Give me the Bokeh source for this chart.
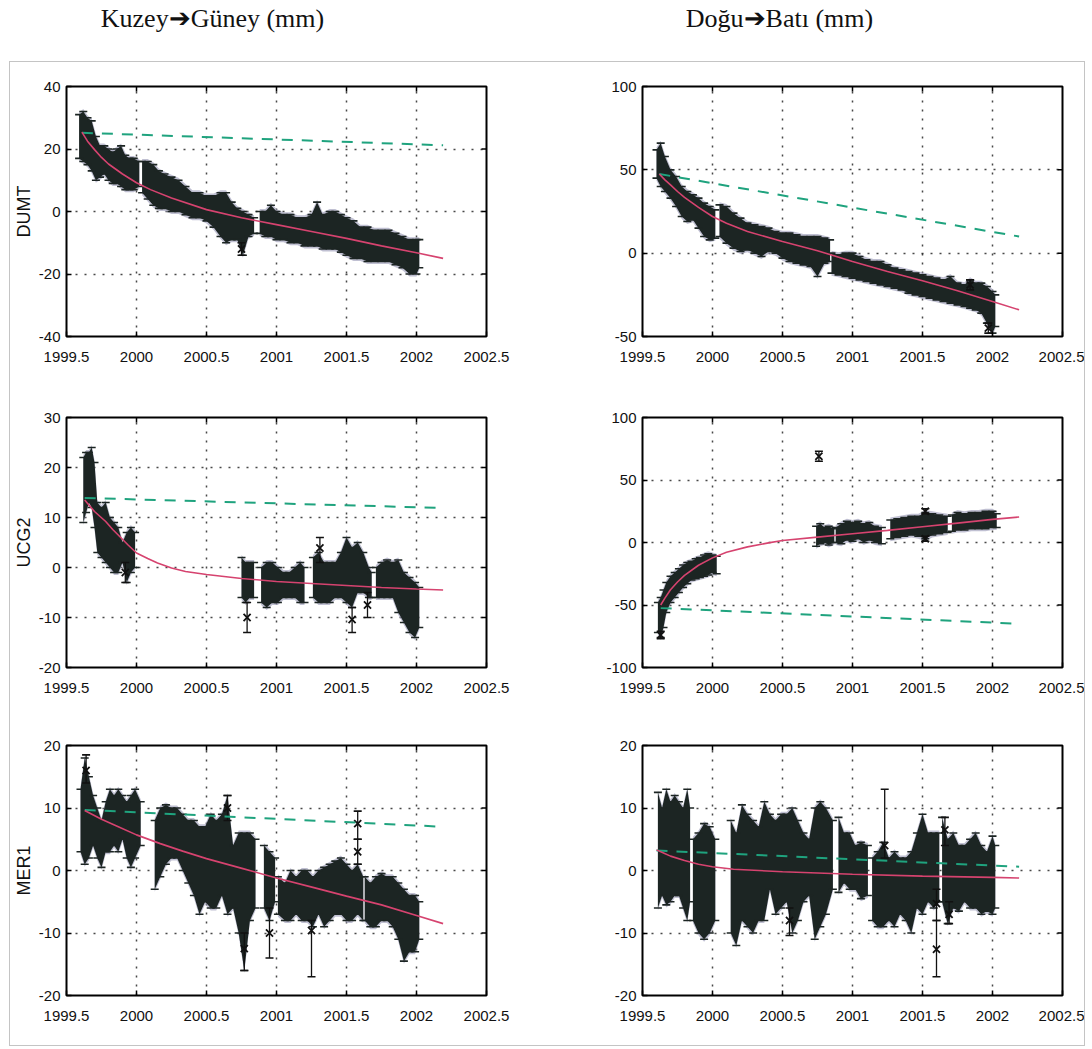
import numpy as np
from bokeh.plotting import figure
from bokeh.models import Range1d, FixedTicker, NumeralTickFormatter
from bokeh.layouts import column, row
from bokeh.embed import file_html
from bokeh.resources import INLINE
from bokeh.core.properties import value

# ---------------- data ----------------
TITLES = ["Kuzey\u2794Güney (mm)", "Doğu\u2794Batı (mm)"]
STATIONS = ["DUMT", "UCG2", "MER1"]
X_TICKS = [1999.5, 2000, 2000.5, 2001, 2001.5, 2002, 2002.5]
X_TICK_LABELS = ["1999.5", "2000", "2000.5", "2001", "2001.5", "2002", "2002.5"]

# ---- DUMT north (Kuzey->Güney)
dumt_n_yticks = [-40, -20, 0, 20, 40]
dumt_n_seg_t = [
    [1999.59, 1999.62, 1999.65, 1999.68, 1999.71, 1999.74, 1999.77, 1999.80, 1999.83, 1999.86, 1999.89, 1999.92, 1999.95, 1999.98, 2000.02],
    [2000.04, 2000.08, 2000.12, 2000.16, 2000.20, 2000.25, 2000.30, 2000.35, 2000.40, 2000.45, 2000.50, 2000.55, 2000.60, 2000.64, 2000.68, 2000.72, 2000.76, 2000.80, 2000.84],
    [2000.88, 2000.92, 2000.96, 2001.0, 2001.05, 2001.1, 2001.15, 2001.2, 2001.25, 2001.29, 2001.33, 2001.38, 2001.42, 2001.46, 2001.5, 2001.55, 2001.6, 2001.65, 2001.7, 2001.75, 2001.8, 2001.85, 2001.9, 2001.95, 2002.0, 2002.02],
]
dumt_n_seg_hi = [
    [31, 32, 30, 29, 24, 21, 21, 20, 19, 20, 21, 18, 17, 17, 16],
    [16, 16, 15, 13, 12, 11, 10, 8, 6, 6, 5, 5, 6, 6, 3, 1, 0, -1, -2],
    [0, 0, 2, 0, -1, -1, -2, -2, -1, 3, -1, 0, 0, -1, -2, -3, -5, -5, -6, -6, -6, -7, -8, -9, -9, -9],
]
dumt_n_seg_lo = [
    [17, 16, 15, 13, 10, 11, 12, 10, 9, 9, 8, 7, 7, 7, 8],
    [6, 4, 2, 1, 1, 0, 0, -1, -2, -2, -3, -5, -8, -10, -9, -9, -14, -8, -7],
    [-7, -8, -8, -9, -9, -10, -10, -11, -11, -11, -12, -12, -12, -13, -14, -15, -15, -16, -16, -16, -16, -17, -18, -20, -20, -18],
]
dumt_n_out_t, dumt_n_out_y, dumt_n_out_lo, dumt_n_out_hi = [2000.75], [-12], [-14], [-10]
dumt_n_fit_t = [1999.61, 1999.65, 1999.7, 1999.75, 1999.8, 1999.9, 2000.0, 2000.1, 2000.25, 2000.5, 2000.75, 2001.0, 2001.25, 2001.5, 2001.75, 2002.0, 2002.19]
dumt_n_fit_y = [25.4, 22.5, 19.8, 17.3, 15.2, 12.0, 9.2, 7.0, 4.3, 0.6, -2.0, -4.2, -6.4, -8.6, -11.0, -13.2, -15.0]
dumt_n_lin_t, dumt_n_lin_y = [1999.61, 2002.19], [25.2, 21.2]

# ---- DUMT east (Doğu->Batı)
dumt_e_yticks = [-50, 0, 50, 100]
dumt_e_seg_t = [
    [1999.60, 1999.63, 1999.66, 1999.70, 1999.74, 1999.78, 1999.82, 1999.86, 1999.90, 1999.94, 1999.98, 2000.02],
    [2000.05, 2000.1, 2000.15, 2000.2, 2000.25, 2000.3, 2000.35, 2000.4, 2000.45, 2000.5, 2000.55, 2000.6, 2000.65, 2000.7, 2000.75, 2000.8, 2000.84],
    [2000.85, 2000.9, 2000.95, 2001.0, 2001.05, 2001.1, 2001.15, 2001.2, 2001.25, 2001.3, 2001.35, 2001.4, 2001.45, 2001.5, 2001.55, 2001.6, 2001.65, 2001.7, 2001.75, 2001.8, 2001.84, 2001.88, 2001.92, 2001.96, 2002.0, 2002.02],
]
dumt_e_seg_hi = [
    [62, 66, 58, 50, 46, 40, 37, 35, 33, 30, 28, 26],
    [29, 28, 24, 21, 18, 17, 16, 15, 13, 12, 12, 11, 10, 10, 10, 9, 8],
    [0, -1, 0, 0, -2, -4, -5, -5, -7, -9, -10, -11, -12, -13, -14, -15, -16, -14, -18, -19, -16, -18, -18, -20, -23, -25],
]
dumt_e_seg_lo = [
    [45, 40, 37, 33, 28, 22, 19, 20, 15, 10, 8, 9],
    [10, 6, 3, 1, 2, 0, -2, 1, 0, -3, -5, -6, -7, -8, -14, -6, -5],
    [-12, -13, -14, -15, -16, -17, -18, -19, -20, -21, -22, -24, -25, -26, -27, -28, -29, -30, -31, -32, -33, -34, -36, -42, -48, -44],
]
dumt_e_out_t, dumt_e_out_y, dumt_e_out_lo, dumt_e_out_hi = [2001.84, 2001.97], [-19, -45], [-22, -48], [-16, -42]
dumt_e_fit_t = [1999.62, 1999.66, 1999.7, 1999.75, 1999.8, 1999.9, 2000.0, 2000.1, 2000.25, 2000.5, 2000.75, 2001.0, 2001.25, 2001.5, 2001.75, 2002.0, 2002.19]
dumt_e_fit_y = [47.5, 44, 41, 37, 33.5, 27.5, 22, 18, 13, 7, 1.5, -5, -11, -16.5, -22.5, -29, -34]
dumt_e_lin_t, dumt_e_lin_y = [1999.62, 2002.19], [47.5, 10]

# ---- UCG2 north
ucg2_n_yticks = [-20, -10, 0, 10, 20, 30]
ucg2_n_seg_t = [
    [1999.62, 1999.64, 1999.66, 1999.68, 1999.70, 1999.72, 1999.75, 1999.78, 1999.81, 1999.84, 1999.87, 1999.90, 1999.93, 1999.96, 1999.99],
    [2000.75, 2000.78, 2000.81, 2000.84],
    [2000.89, 2000.93, 2000.97, 2001.01, 2001.05, 2001.09, 2001.13, 2001.17, 2001.2],
    [2001.26, 2001.3, 2001.34, 2001.38, 2001.42, 2001.46, 2001.5, 2001.54, 2001.58, 2001.62, 2001.66, 2001.68],
    [2001.71, 2001.75, 2001.79, 2001.83, 2001.87, 2001.91, 2001.95, 2001.99, 2002.02],
]
ucg2_n_seg_hi = [
    [22, 23, 23, 24, 21, 13, 12, 13, 10, 9, 8, 5, 7, 8, 7],
    [2, 1, 1, 1],
    [0, 1, 1, 0, -1, -1, 0, 1, 0],
    [2, 3, 1, 1, 1, 3, 6, 4, 5, 3, 0, -1],
    [0, 1, 1.5, 1, 1.5, -1, -2, -3, -4],
]
ucg2_n_seg_lo = [
    [9, 11, 13, 12, 8, 3, 2, 1, 0, -1, -1, 1, -3, -1, 0],
    [-6, -7, -6, -6],
    [-7, -8, -7, -7, -6, -6, -6, -7, -7],
    [-6, -7, -7, -7, -6, -6, -7, -8, -5, -5, -6, -6],
    [-6, -6, -6, -6, -9, -11, -13, -14, -12],
]
ucg2_n_out_t = [2000.79, 2001.31, 2001.54, 2001.65, 1999.92]
ucg2_n_out_y = [-10, 3.9, -10.4, -7.5, -1]
ucg2_n_out_lo = [-13, 1, -13, -10, -3]
ucg2_n_out_hi = [-7, 6, -8, -5, 1]
ucg2_n_fit_t = [1999.63, 1999.66, 1999.7, 1999.74, 1999.78, 1999.83, 1999.88, 1999.94, 2000.0, 2000.08, 2000.15, 2000.25, 2000.35, 2000.5, 2000.75, 2001.0, 2001.25, 2001.5, 2001.75, 2002.0, 2002.19]
ucg2_n_fit_y = [13.5, 12.5, 11.2, 10.2, 9.2, 7.6, 6.2, 4.5, 2.9, 1.8, 0.9, -0.1, -0.8, -1.4, -2.2, -2.8, -3.2, -3.6, -4.0, -4.3, -4.5]
ucg2_n_lin_t, ucg2_n_lin_y = [1999.63, 2002.19], [13.9, 11.9]

# ---- UCG2 east
ucg2_e_yticks = [-100, -50, 0, 50, 100]
ucg2_e_seg_t = [
    [1999.61, 1999.63, 1999.65, 1999.67, 1999.70, 1999.73, 1999.76, 1999.79, 1999.82, 1999.85, 1999.88, 1999.91, 1999.94, 1999.97, 2000.0, 2000.03],
    [2000.74, 2000.77, 2000.8, 2000.83, 2000.87],
    [2000.88, 2000.92, 2000.96, 2001.0, 2001.04, 2001.08, 2001.12, 2001.16, 2001.21],
    [2001.27, 2001.32, 2001.37, 2001.42, 2001.47, 2001.52, 2001.57, 2001.62, 2001.68],
    [2001.71, 2001.75, 2001.8, 2001.85, 2001.9, 2001.95, 2002.0, 2002.03],
]
ucg2_e_seg_hi = [
    [-48, -44, -38, -32, -27, -24, -21, -18, -16, -15, -13, -12, -10, -9, -10, -11],
    [13, 15, 12, 13, 11],
    [12, 15, 17, 16, 17, 15, 16, 13, 12],
    [18, 19, 20, 21, 21, 24, 23, 22, 21],
    [22, 24, 23, 24, 24, 25, 25, 23],
]
ucg2_e_seg_lo = [
    [-72, -76, -68, -56, -48, -44, -40, -36, -33, -30, -29, -28, -27, -26, -24, -25],
    [-3, -1, 0, -2, 0],
    [0, -1, 2, 1, 3, 0, 2, 0, -1],
    [3, 4, 5, 6, 5, 3, 6, 7, 8],
    [9, 10, 10, 11, 11, 11, 12, 12],
]
ucg2_e_out_t = [2000.76, 1999.63, 2001.52, 2001.52]
ucg2_e_out_y = [69, -74, 25, 3]
ucg2_e_out_lo = [65, -77, 23, 1]
ucg2_e_out_hi = [73, -71, 27, 5]
ucg2_e_fit_t = [1999.63, 1999.66, 1999.7, 1999.75, 1999.8, 1999.9, 2000.0, 2000.1, 2000.25, 2000.4, 2000.5, 2000.75, 2001.0, 2001.25, 2001.5, 2001.75, 2002.0, 2002.19]
ucg2_e_fit_y = [-50, -44.5, -37.8, -31.6, -26.3, -18.2, -12.3, -7.8, -3.5, -0.3, 1.6, 4.3, 7.0, 9.7, 12.6, 15.5, 18.5, 20.4]
ucg2_e_lin_t, ucg2_e_lin_y = [1999.63, 2002.19], [-52.5, -65]

# ---- MER1 north
mer1_n_yticks = [-20, -10, 0, 10, 20]
mer1_n_seg_t = [
    [1999.6, 1999.63, 1999.66, 1999.69, 1999.72, 1999.75, 1999.78, 1999.81, 1999.84, 1999.87, 1999.9, 1999.93, 1999.96, 1999.99, 2000.03],
    [2000.13, 2000.17, 2000.21, 2000.25, 2000.29, 2000.33, 2000.37, 2000.41, 2000.45, 2000.49, 2000.53, 2000.57, 2000.61, 2000.65, 2000.69, 2000.73, 2000.77, 2000.81, 2000.85],
    [2000.91, 2000.95, 2000.99],
    [2001.01, 2001.06, 2001.1, 2001.14, 2001.18, 2001.22, 2001.26, 2001.3, 2001.34, 2001.38, 2001.42, 2001.46, 2001.5, 2001.54, 2001.58, 2001.62],
    [2001.63, 2001.67, 2001.71, 2001.75, 2001.79, 2001.83, 2001.87, 2001.91, 2001.95, 2001.99, 2002.02],
]
mer1_n_seg_hi = [
    [13, 18, 15, 12, 10, 8, 11, 13, 12, 13, 12, 11, 12, 13, 11],
    [8, 10, 10.5, 10, 10, 9, 8, 8, 7, 7, 9, 8, 9, 12, 4, 6, 6, 6, 5],
    [4, 3, 2],
    [-1, -2, 0, -1, 0, 0, -1, 0, 0.5, 1, 1.5, 2, 1, 0, 1, -1],
    [-1, -2, -1, -0.5, -1, -1, -2, -3, -4, -4, -5],
]
mer1_n_seg_lo = [
    [3, 1, 2, 4, 2, 0.5, 3, 3, 4, 3, 5, 2, 0.5, 2, 4],
    [-3, -1, 1, 2, 2, 0, -2, -4, -7, -5, -6, -6, -4, -7, -6, -10, -16, -8, -6],
    [-6, -8, -5],
    [-7, -8, -8, -7, -8, -8, -9, -7, -9, -8, -7, -7, -8, -8, -7, -8],
    [-8, -9, -9, -8, -8, -9, -11, -14.5, -13, -13, -11],
]
mer1_n_out_t = [1999.64, 2000.65, 2000.77, 2000.95, 2001.25, 2001.58, 2001.58]
mer1_n_out_y = [16, 10, -12.5, -10, -9.6, 7.5, 3]
mer1_n_out_lo = [14, 8, -16, -14, -17, 5, 1]
mer1_n_out_hi = [18.5, 12, -10, -6, -8, 9.5, 5]
mer1_n_fit_t = [1999.63, 1999.75, 1999.87, 2000.0, 2000.17, 2000.33, 2000.5, 2000.76, 2001.0, 2001.26, 2001.5, 2001.75, 2002.0, 2002.19]
mer1_n_fit_y = [9.6, 8.2, 7.0, 5.7, 4.3, 3.1, 1.9, 0.3, -1.2, -2.7, -4.1, -5.5, -7.2, -8.5]
mer1_n_lin_t, mer1_n_lin_y = [1999.63, 2002.19], [9.7, 7.0]

# ---- MER1 east
mer1_e_yticks = [-20, -10, 0, 10, 20]
mer1_e_seg_t = [
    [1999.61, 1999.64, 1999.67, 1999.7, 1999.73, 1999.76, 1999.79, 1999.82, 1999.84],
    [1999.86, 1999.9, 1999.94, 1999.98, 2000.02],
    [2000.13, 2000.17, 2000.21, 2000.25, 2000.29, 2000.33, 2000.37, 2000.41, 2000.45, 2000.49, 2000.53, 2000.57, 2000.61, 2000.65, 2000.69, 2000.73, 2000.77, 2000.81, 2000.86],
    [2000.9, 2000.94, 2000.98, 2001.02, 2001.06, 2001.11],
    [2001.14, 2001.18, 2001.22, 2001.26, 2001.3, 2001.34, 2001.38, 2001.42, 2001.46, 2001.5, 2001.54, 2001.58, 2001.62],
    [2001.64, 2001.68, 2001.72, 2001.76, 2001.8, 2001.84, 2001.88, 2001.92, 2001.96, 2002.0, 2002.02],
]
mer1_e_seg_hi = [
    [12.5, 10, 13, 11, 12, 11, 10, 13, 10],
    [5, 6, 7.5, 7, 5],
    [8, 6, 10.5, 9, 8, 7, 11, 9, 8, 9, 9, 10, 8, 6, 5, 10, 11, 10, 8],
    [8.5, 6, 6, 4, 4.5, 4],
    [2, 3, 4.5, 2, 3, 2, 2, 3, 6, 9, 6, 6, 6],
    [8.5, 5, 6, 4, 4, 5, 6, 4, 3, 5.5, 4],
]
mer1_e_seg_lo = [
    [-6, -4, -5.5, -5, -4, -4, -6, -8, -5],
    [-8, -10, -11, -10, -8],
    [-10, -12, -8, -9, -10, -8, -8, -3, -7, -6, -5, -10, -8, -5, -4, -11, -9, -7, -3],
    [-3.5, -2, -3, -3, -4.5, -4],
    [-8, -9, -9, -8, -9, -7, -8, -10, -6, -7, -5, -6, -5],
    [-5, -8.5, -6, -6.5, -5, -6, -6, -7, -6.5, -7, -6],
]
mer1_e_out_t = [2001.23, 2001.6, 2001.6, 2001.66, 2001.69, 2000.55]
mer1_e_out_y = [4, -12.6, -5.3, 6.5, -7, -8]
mer1_e_out_lo = [2, -17, -8, 4, -8.5, -10.4]
mer1_e_out_hi = [13, -8, -3, 8.5, -5, -6]
mer1_e_fit_t = [1999.6, 1999.65, 1999.7, 1999.8, 1999.9, 2000.0, 2000.15, 2000.5, 2001.0, 2001.5, 2002.0, 2002.19]
mer1_e_fit_y = [3.3, 2.8, 2.3, 1.6, 1.0, 0.6, 0.2, -0.2, -0.6, -0.9, -1.1, -1.2]
mer1_e_lin_t, mer1_e_lin_y = [1999.6, 2002.19], [3.2, 0.6]

# ---------------- styling / layout ----------------
DARK = "#1c2523"
HALO = "#9696b4"
RED = "#d6436f"
GREEN = "#1fa37e"
TICK_FONT = "Liberation Sans"
# (figure width, border left, border right)
COLS = [(544, 55, 68), (530, 88, 22)]
# (figure height, border top, border bottom)
ROWS = [(330, 24, 56), (330, 25, 55), (323, 23, 50)]
X0, X1 = X_TICKS[0], X_TICKS[-1]


def make_panel(ci, ri, yticks, seg_t, seg_hi, seg_lo, out_t, out_y, out_lo, out_hi,
               fit_t, fit_y, lin_t, lin_y, ylabel=None):
    W, bl, br = COLS[ci]
    H, bt, bb = ROWS[ri]
    y0, y1 = yticks[0], yticks[-1]
    fw, fh = W - bl - br, H - bt - bb
    p = figure(width=W, height=H, x_range=Range1d(X0, X1), y_range=Range1d(y0, y1),
               output_backend="svg", toolbar_location=None,
               min_border_left=bl, min_border_right=br, min_border_top=bt, min_border_bottom=bb)
    p.background_fill_color = "white"
    p.border_fill_color = "white"
    p.outline_line_color = "black"
    p.outline_line_width = 2

    for ax in (p.xaxis[0], p.yaxis[0]):
        ax.major_tick_in = 5
        ax.major_tick_out = 0
        ax.minor_tick_line_color = None
        ax.axis_line_color = None
        ax.major_tick_line_color = "black"
        ax.major_tick_line_width = 1.5
        ax.major_label_text_font = TICK_FONT
        ax.major_label_text_font_size = "15px"
        ax.major_label_text_color = "#111111"
    p.xaxis[0].ticker = FixedTicker(ticks=X_TICKS)
    p.xaxis[0].formatter = NumeralTickFormatter(format="0.[0]")
    p.xaxis[0].major_label_overrides = {t: lab for t, lab in zip(X_TICKS, X_TICK_LABELS)}
    p.xaxis[0].major_label_standoff = 15
    p.yaxis[0].ticker = FixedTicker(ticks=yticks)
    p.yaxis[0].major_label_overrides = {t: str(t) for t in yticks}
    p.yaxis[0].major_label_standoff = 6
    if ylabel:
        p.yaxis[0].axis_label = ylabel
        p.yaxis[0].axis_label_text_font = "Liberation Sans"
        p.yaxis[0].axis_label_text_font_size = "18px"
        p.yaxis[0].axis_label_text_font_style = "normal"
        p.yaxis[0].axis_label_standoff = 2
        p.yaxis[0].axis_label_text_color = "#111111"

    # inward ticks on the top and right sides of the box
    dy = 5.0 * (y1 - y0) / fh
    dx = 5.0 * (X1 - X0) / fw
    xt = X_TICKS[1:-1]
    yt = yticks[1:-1]
    p.segment(x0=xt, y0=[y1] * len(xt), x1=xt, y1=[y1 - dy] * len(xt),
              line_color="black", line_width=1.5)
    p.segment(x0=[X1] * len(yt), y0=yt, x1=[X1 - dx] * len(yt), y1=yt,
              line_color="black", line_width=1.5)

    p.xgrid.ticker = FixedTicker(ticks=xt)
    p.ygrid.ticker = FixedTicker(ticks=yt)
    p.grid.grid_line_color = "#1a1a1a"
    p.grid.grid_line_dash = "2 7"
    p.grid.grid_line_width = 1.5
    p.grid.grid_line_alpha = 0.8

    halo = 2.5 * (y1 - y0) / fh
    for t, hi, lo in zip(seg_t, seg_hi, seg_lo):
        t = np.array(t, float)
        hi = np.array(hi, float)
        lo = np.array(lo, float)
        p.varea(x=t, y1=lo - halo, y2=hi + halo, fill_color=HALO, fill_alpha=0.6)
        p.varea(x=t, y1=lo, y2=hi, fill_color=DARK, fill_alpha=1.0)
        p.scatter(x=np.concatenate([t, t]), y=np.concatenate([hi, lo]), marker="dash",
                  size=8, line_color=DARK, line_width=1.7)
    if out_t:
        p.segment(x0=out_t, y0=out_lo, x1=out_t, y1=out_hi, line_color="#111111", line_width=1.3)
        p.scatter(x=out_t + out_t, y=out_lo + out_hi, marker="dash", size=8,
                  line_color="#111111", line_width=1.6)
        p.scatter(x=out_t, y=out_y, marker="x", size=10, line_color="#111111", line_width=1.8)

    p.line(lin_t, lin_y, line_color=GREEN, line_width=2, line_dash="11 9")
    p.line(fit_t, fit_y, line_color=RED, line_width=1.6)
    return p


f11 = make_panel(0, 0, dumt_n_yticks, dumt_n_seg_t, dumt_n_seg_hi, dumt_n_seg_lo,
                 dumt_n_out_t, dumt_n_out_y, dumt_n_out_lo, dumt_n_out_hi,
                 dumt_n_fit_t, dumt_n_fit_y, dumt_n_lin_t, dumt_n_lin_y, STATIONS[0])
f12 = make_panel(1, 0, dumt_e_yticks, dumt_e_seg_t, dumt_e_seg_hi, dumt_e_seg_lo,
                 dumt_e_out_t, dumt_e_out_y, dumt_e_out_lo, dumt_e_out_hi,
                 dumt_e_fit_t, dumt_e_fit_y, dumt_e_lin_t, dumt_e_lin_y)
f21 = make_panel(0, 1, ucg2_n_yticks, ucg2_n_seg_t, ucg2_n_seg_hi, ucg2_n_seg_lo,
                 ucg2_n_out_t, ucg2_n_out_y, ucg2_n_out_lo, ucg2_n_out_hi,
                 ucg2_n_fit_t, ucg2_n_fit_y, ucg2_n_lin_t, ucg2_n_lin_y, STATIONS[1])
f22 = make_panel(1, 1, ucg2_e_yticks, ucg2_e_seg_t, ucg2_e_seg_hi, ucg2_e_seg_lo,
                 ucg2_e_out_t, ucg2_e_out_y, ucg2_e_out_lo, ucg2_e_out_hi,
                 ucg2_e_fit_t, ucg2_e_fit_y, ucg2_e_lin_t, ucg2_e_lin_y)
f31 = make_panel(0, 2, mer1_n_yticks, mer1_n_seg_t, mer1_n_seg_hi, mer1_n_seg_lo,
                 mer1_n_out_t, mer1_n_out_y, mer1_n_out_lo, mer1_n_out_hi,
                 mer1_n_fit_t, mer1_n_fit_y, mer1_n_lin_t, mer1_n_lin_y, STATIONS[2])
f32 = make_panel(1, 2, mer1_e_yticks, mer1_e_seg_t, mer1_e_seg_hi, mer1_e_seg_lo,
                 mer1_e_out_t, mer1_e_out_y, mer1_e_out_lo, mer1_e_out_hi,
                 mer1_e_fit_t, mer1_e_fit_y, mer1_e_lin_t, mer1_e_lin_y)

# header with the two column titles
hdr = figure(width=1092, height=61, x_range=Range1d(0, 1092), y_range=Range1d(0, 61),
             output_backend="svg", toolbar_location=None, min_border=0,
             x_axis_location=None, y_axis_location=None)
hdr.grid.visible = False
hdr.outline_line_color = None
hdr.text(x=[212, 779], y=[43, 43], text=TITLES, text_font=value("Liberation Serif"),
         text_font_size="26px", text_align="center", text_baseline="alphabetic",
         text_color="#111111")

grid = column(row(f11, f12), row(f21, f22), row(f31, f32),
              styles={"border": "1px solid #c4c4c4"}, margin=(0, 0, 0, 9))
page = column(hdr, grid)

open("out.html", "w").write(file_html(page, INLINE))
